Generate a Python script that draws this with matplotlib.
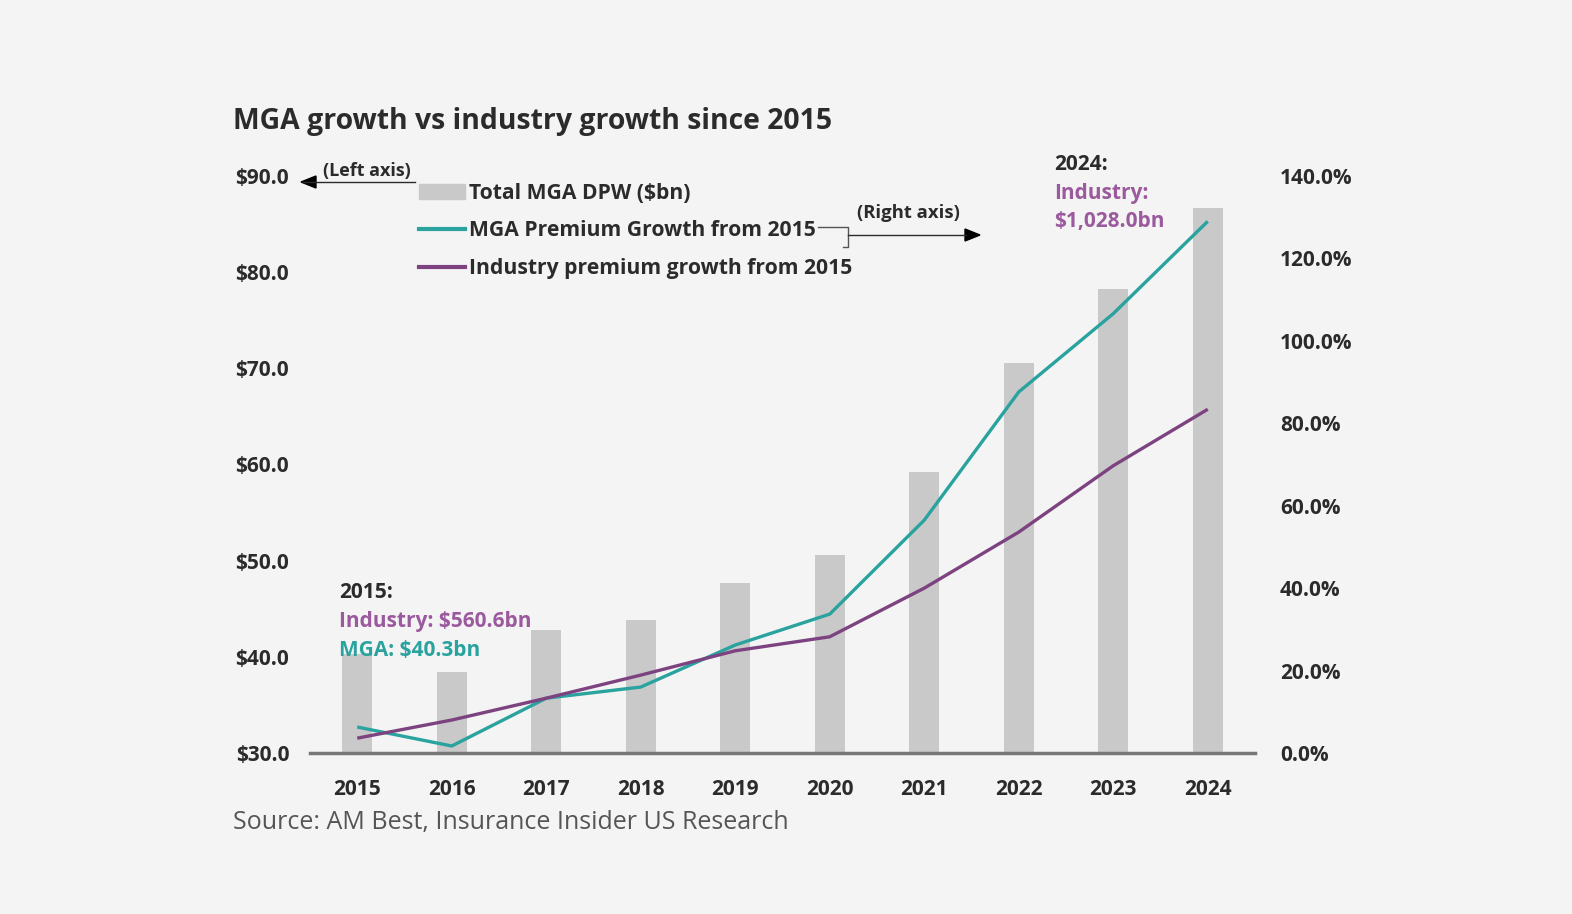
import numpy as np
import matplotlib.pyplot as plt
from matplotlib.lines import Line2D
from matplotlib.patches import Patch

plt.rcParams['font.family'] = ['Open Sans', 'DejaVu Sans']

years = ['2015', '2016', '2017', '2018', '2019', '2020', '2021', '2022', '2023', '2024']
mga_dpw = [40.3, 38.4, 42.8, 43.8, 47.7, 50.6, 59.2, 70.6, 78.3, 86.7]
mga_growth = [6.3, 1.7, 13.3, 16.0, 26.2, 33.7, 56.5, 87.6, 106.6, 129.0]
ind_growth = [3.6, 8.0, 13.3, 18.9, 24.8, 28.2, 40.0, 53.6, 69.7, 83.4]
left_ticks = [30, 40, 50, 60, 70, 80, 90]
right_ticks = [0, 20, 40, 60, 80, 100, 120, 140]

bg = '#f4f4f4'
teal = '#2aa39f'
purple = '#7d4380'
purple_txt = '#9b5a9d'
dark = '#2b2b2b'

W, H = 1572, 914
fig = plt.figure(figsize=(W / 100, H / 100), dpi=100, facecolor=bg)
ax = fig.add_axes([310 / W, 1 - 753 / H, 945 / W, 577 / H])
ax.set_facecolor(bg)
x = np.arange(len(years))

ax.bar(x, np.array(mga_dpw) - 30, bottom=30, width=0.32, color='#c9c9c9', zorder=1)
ax.set_xlim(-0.5, 9.5)
ax.set_ylim(30, 90)
ax.set_yticks(left_ticks)
ax.set_yticklabels(['$%.1f' % v for v in left_ticks])
ax.set_xticks(x)
ax.set_xticklabels(years)

ax2 = ax.twinx()
ax2.patch.set_visible(False)
ax2.plot(x, mga_growth, color=teal, lw=2.4, solid_capstyle='butt')
ax2.plot(x, ind_growth, color=purple, lw=2.4, solid_capstyle='butt')
ax2.set_ylim(0, 140)
ax2.set_yticks(right_ticks)
ax2.set_yticklabels(['%.1f%%' % v for v in right_ticks])

for a in (ax, ax2):
    for s in a.spines.values():
        s.set_visible(False)
    a.tick_params(length=0, labelsize=15, labelcolor=dark)
    for lab in a.get_xticklabels() + a.get_yticklabels():
        lab.set_fontweight('bold')
ax.spines['bottom'].set_visible(True)
ax.spines['bottom'].set_color('#777777')
ax.spines['bottom'].set_linewidth(2.5)
ax.tick_params(axis='y', pad=15)
ax.tick_params(axis='x', pad=19)
ax2.tick_params(axis='y', pad=18)

handles = [Patch(color='#c9c9c9'),
           Line2D([], [], color=teal, lw=3),
           Line2D([], [], color=purple, lw=3)]
labels = ['Total MGA DPW ($bn)', 'MGA Premium Growth from 2015',
          'Industry premium growth from 2015']
fig.legend(handles, labels, loc='upper left', bbox_to_anchor=(419 / W, 1 - 183 / H),
           frameon=False, prop={'size': 15.2, 'weight': 'bold'}, labelcolor=dark,
           handlelength=2.2, handletextpad=0.15, labelspacing=0.78, borderpad=0,
           borderaxespad=0)

fig.text(233 / W, 1 - 121 / H, 'MGA growth vs industry growth since 2015',
         fontsize=20.4, fontweight='bold', color=dark, va='center')
fig.text(233 / W, 1 - 823 / H, 'Source: AM Best, Insurance Insider US Research',
         fontsize=18, color='#555555', va='center')

# axis pointers
fig.text(323 / W, 1 - 171 / H, '(Left axis)', fontsize=13, fontweight='bold',
         color=dark, va='center')
fig.add_artist(Line2D([303 / W, 415 / W], [1 - 182 / H, 1 - 182 / H], color=dark, lw=1))
fig.add_artist(plt.Polygon([[301 / W, 1 - 182 / H], [316 / W, 1 - 176 / H], [316 / W, 1 - 188 / H]],
                           closed=True, color='black', transform=fig.transFigure))
fig.text(857 / W, 1 - 213 / H, '(Right axis)', fontsize=13.3, fontweight='bold',
         color=dark, va='center')
lx = [818, 848, 848, 843]
ly = [227, 227, 247, 247]
fig.add_artist(Line2D([v / W for v in lx], [1 - v / H for v in ly], color='#555555', lw=1))
fig.add_artist(Line2D([848 / W, 966 / W], [1 - 235 / H, 1 - 235 / H], color=dark, lw=1))
fig.add_artist(plt.Polygon([[980 / W, 1 - 235 / H], [965 / W, 1 - 229 / H], [965 / W, 1 - 241 / H]],
                           closed=True, color='black', transform=fig.transFigure))

# callouts
fs = 15
fig.text(339 / W, 1 - 592 / H, '2015:', fontsize=fs, fontweight='bold', color=dark, va='center')
fig.text(339 / W, 1 - 621 / H, 'Industry: $560.6bn', fontsize=fs, fontweight='bold',
         color=purple_txt, va='center')
fig.text(339 / W, 1 - 650 / H, 'MGA: $40.3bn', fontsize=fs, fontweight='bold',
         color=teal, va='center')
fig.text(1054 / W, 1 - 165 / H, '2024:', fontsize=fs, fontweight='bold', color=dark, va='center')
fig.text(1054 / W, 1 - 194 / H, 'Industry:', fontsize=fs, fontweight='bold',
         color=purple_txt, va='center')
fig.text(1054 / W, 1 - 222 / H, '$1,028.0bn', fontsize=fs, fontweight='bold',
         color=purple_txt, va='center')

fig.savefig('out.png', dpi=100, facecolor=bg)
